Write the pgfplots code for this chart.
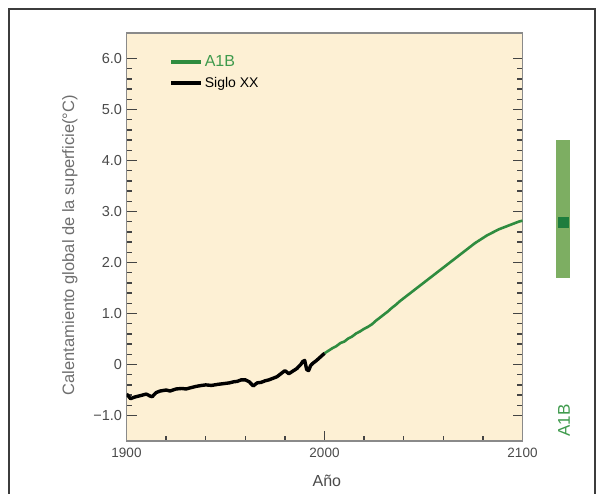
\documentclass[border=0pt]{standalone}
\usepackage{fontspec}
\setmainfont{Liberation Sans}
\usepackage{pgfplots}
\pgfplotsset{compat=1.18}

\definecolor{framegray}{HTML}{3C3C3C}
\definecolor{beige}{HTML}{FDF0D4}
\definecolor{axisgray}{HTML}{8A8A8A}
\definecolor{tickgray}{HTML}{444444}
\definecolor{txtgray}{HTML}{4A4A4A}
\definecolor{a1bline}{HTML}{2F8C3F}
\definecolor{a1btxt}{HTML}{3E9A4C}
\definecolor{barcol}{HTML}{7DAE62}
\definecolor{sqcol}{HTML}{1D7D3D}

\begin{document}
\begin{tikzpicture}[x=1pt,y=1pt]
\useasboundingbox (0,0) rectangle (604,493);
\draw[framegray, line width=1.5pt] (9,-20) rectangle (595,484);

\begin{axis}[
    at={(126.5pt,52pt)}, anchor=south west,
    scale only axis, width=396pt, height=408pt,
    xmin=1900, xmax=2100, ymin=-1.5, ymax=6.5,
    axis background/.style={fill=beige},
    axis line style={axisgray, line width=1.3pt},
    xtick={1900,2000,2100},
    minor xtick={1920,1940,1960,1980,2020,2040,2060,2080},
    xtick pos=lower,
    ytick={-1,0,1,2,3,4,5,6},
    yticklabels={−1.0,0,1.0,2.0,3.0,4.0,5.0,6.0},
    minor y tick num=4,
    ytick pos=both,
    tick align=inside,
    major tick length=10pt, minor tick length=5.5pt,
    every tick/.style={tickgray, line width=1.3pt},
    /pgf/number format/assume math mode=true,
    x tick label style={/pgf/number format/1000 sep={}, font=\fontsize{13.5}{15}\selectfont, text=txtgray, yshift=-4pt},
    y tick label style={font=\fontsize{14.5}{16}\selectfont, text=txtgray, xshift=-1pt},
    xlabel={Año},
    ylabel={Calentamiento global de la superficie(°C)},
    every axis x label/.style={at={(axis description cs:0.506,-0.098)}, anchor=center, font=\fontsize{16}{18}\selectfont, text=txtgray},
    every axis y label/.style={at={(axis description cs:-0.143,0.48)}, rotate=90, anchor=center, font=\fontsize{16.5}{18}\selectfont, text=txtgray!80},
    legend style={at={(axis description cs:0.1,0.955)}, anchor=north west, draw=none, fill=none, row sep=5pt},
    legend cell align=left,
    legend image code/.code={\draw[#1, line width=3.5pt] (0pt,0pt) -- (30pt,0pt);},
]
\addplot[a1bline, line width=2.6pt] coordinates {
(2000,0.22) (2002,0.27) (2004,0.32) (2006,0.36) (2008,0.42) (2010,0.45)
(2012,0.51) (2014,0.55) (2016,0.61) (2018,0.65) (2020,0.70) (2022,0.74)
(2024,0.79) (2026,0.86) (2028,0.92) (2030,0.98) (2032,1.04) (2034,1.11)
(2036,1.17) (2038,1.24) (2040,1.30) (2042,1.36) (2044,1.42) (2046,1.48)
(2048,1.54) (2050,1.60) (2052,1.66) (2054,1.72) (2056,1.78) (2058,1.84)
(2060,1.90) (2062,1.96) (2064,2.02) (2066,2.08) (2068,2.14) (2070,2.20)
(2072,2.26) (2074,2.32) (2076,2.38) (2078,2.43) (2080,2.48) (2082,2.53)
(2084,2.57) (2086,2.61) (2088,2.65) (2090,2.68) (2092,2.71) (2094,2.74)
(2096,2.77) (2098,2.80) (2100,2.82)
};
\addlegendentry{\fontsize{16}{18}\selectfont\textcolor{a1btxt}{A1B}}
\addplot[black, line width=3.4pt, line join=round] coordinates {
(1900,-0.58) (1901,-0.62) (1902,-0.67) (1904,-0.64) (1906,-0.62)
(1908,-0.60) (1910,-0.58) (1912,-0.62) (1913,-0.63) (1915,-0.55)
(1917,-0.52) (1920,-0.50) (1922,-0.52) (1925,-0.48) (1928,-0.47)
(1930,-0.48) (1932,-0.46) (1935,-0.43) (1938,-0.41) (1940,-0.40)
(1943,-0.41) (1946,-0.39) (1948,-0.38) (1950,-0.37) (1952,-0.36)
(1954,-0.34) (1956,-0.33) (1958,-0.30) (1960,-0.30) (1962,-0.34)
(1964,-0.42) (1966,-0.36) (1968,-0.35) (1970,-0.32) (1972,-0.30)
(1974,-0.27) (1976,-0.24) (1978,-0.18) (1980,-0.12) (1982,-0.18)
(1984,-0.13) (1986,-0.08) (1988,0.00) (1989,0.06) (1990,0.08)
(1991,-0.10) (1992,-0.12) (1993,-0.02) (1994,0.02) (1996,0.08)
(1998,0.15) (2000,0.22)
};
\addlegendentry{\fontsize{14}{16}\selectfont Siglo XX}
\end{axis}

\begin{axis}[
    at={(556pt,52pt)}, anchor=south west,
    scale only axis, width=14pt, height=408pt,
    xmin=-1, xmax=1, ymin=-1.5, ymax=6.5,
    hide axis, clip=false,
]
\addplot[barcol, line width=14pt] coordinates {(0,1.7) (0,4.4)};
\addplot[sqcol, only marks, mark=square*, mark size=5pt] coordinates {(0,2.8)};
\node[rotate=90, text=a1btxt, font=\fontsize{17}{19}\selectfont] at (axis cs:0.15,-1.1) {A1B};
\end{axis}
\end{tikzpicture}
\end{document}
